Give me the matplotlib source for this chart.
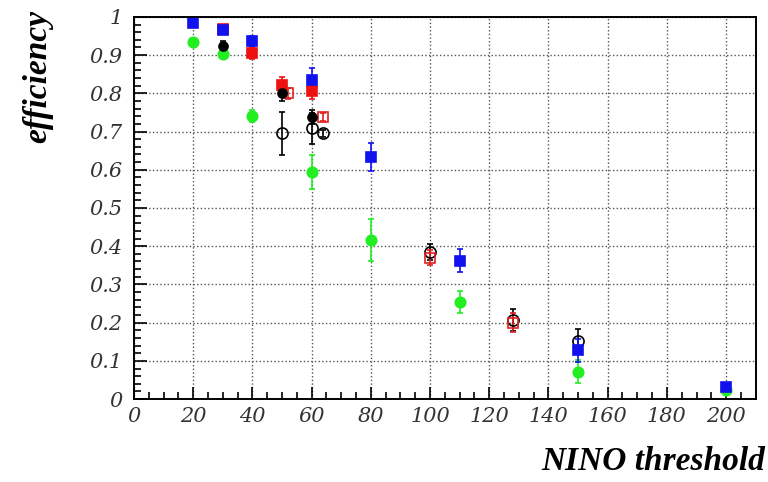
import numpy as np
import matplotlib.pyplot as plt
from matplotlib.ticker import MultipleLocator

# efficiency vs NINO threshold, one entry per data set
blue_x = [20, 30, 40, 60, 80, 110, 150, 200]
blue_y = [0.984, 0.966, 0.937, 0.835, 0.633, 0.362, 0.128, 0.031]
blue_e = [0.008, 0.010, 0.012, 0.030, 0.037, 0.030, 0.030, 0.010]

red_x = [30, 40, 50, 60]
red_y = [0.968, 0.906, 0.822, 0.806]
red_e = [0.010, 0.015, 0.020, 0.020]

black_x = [30, 50, 60]
black_y = [0.925, 0.800, 0.738]
black_e = [0.012, 0.020, 0.018]

green_x = [20, 30, 40, 60, 80, 110, 150, 200]
green_y = [0.935, 0.903, 0.741, 0.594, 0.416, 0.254, 0.071, 0.025]
green_e = [0.010, 0.010, 0.015, 0.045, 0.055, 0.030, 0.030, 0.015]

open_circle_x = [50, 60, 64, 100, 128, 150]
open_circle_y = [0.695, 0.708, 0.695, 0.385, 0.207, 0.153]
open_circle_e = [0.057, 0.040, 0.010, 0.020, 0.030, 0.030]

open_square_x = [52, 64, 100, 128]
open_square_y = [0.800, 0.738, 0.370, 0.200]
open_square_e = [0.015, 0.010, 0.020, 0.025]

fig = plt.figure(figsize=(7.68, 4.82), dpi=100)
ax = fig.add_axes([0.1745, 0.172, 0.8095, 0.793])

def draw(x, y, e, color, marker, filled=True, ms=7.5):
    ax.errorbar(x, y, yerr=e, fmt=marker, color=color, ecolor=color,
                mfc=color if filled else 'none', mec=color, mew=1.2,
                ms=ms, elinewidth=1.2, capsize=2, capthick=1.0)

draw(open_circle_x, open_circle_y, open_circle_e, 'black', 'o', filled=False, ms=8)
draw(open_square_x, open_square_y, open_square_e, '#e02020', 's', filled=False)
draw(green_x, green_y, green_e, '#22ee22', 'o')
draw(red_x, red_y, red_e, '#ee1111', 's')
draw(black_x, black_y, black_e, 'black', 'o', ms=6.5)
draw(blue_x, blue_y, blue_e, '#1111ee', 's')

ax.set_xlim(0, 210)
ax.set_ylim(0, 1.0)
ax.xaxis.set_major_locator(MultipleLocator(20))
ax.xaxis.set_minor_locator(MultipleLocator(5))
ax.yaxis.set_major_locator(MultipleLocator(0.1))
ax.yaxis.set_minor_locator(MultipleLocator(0.02))
ax.tick_params(which='both', direction='in', top=False, right=False, width=1.2)
ax.tick_params(which='major', length=9)
ax.tick_params(which='minor', length=5)
ax.tick_params(axis='x', pad=6)
ax.tick_params(axis='y', pad=8)
ax.grid(True, which='major', linestyle=':', color='#555555', linewidth=1.0)
for s in ax.spines.values():
    s.set_linewidth(1.4)

ax.set_yticks(np.arange(0, 1.01, 0.1))
ax.set_yticklabels(['0'] + ['%.1f' % v for v in np.arange(0.1, 0.95, 0.1)] + ['1'])
for lab in ax.get_xticklabels() + ax.get_yticklabels():
    lab.set_fontfamily('DejaVu Serif')
    lab.set_fontstyle('italic')
    lab.set_fontsize(15)
    lab.set_color('#333333')

label_font = dict(family='Liberation Serif', style='italic', weight='bold', size=24)
fig.text(0.049, 0.979, 'efficiency', rotation=90, ha='center', va='top', **label_font)
fig.text(0.996, 0.025, 'NINO threshold', ha='right', va='baseline', **label_font)

fig.savefig('out.png', dpi=100)
